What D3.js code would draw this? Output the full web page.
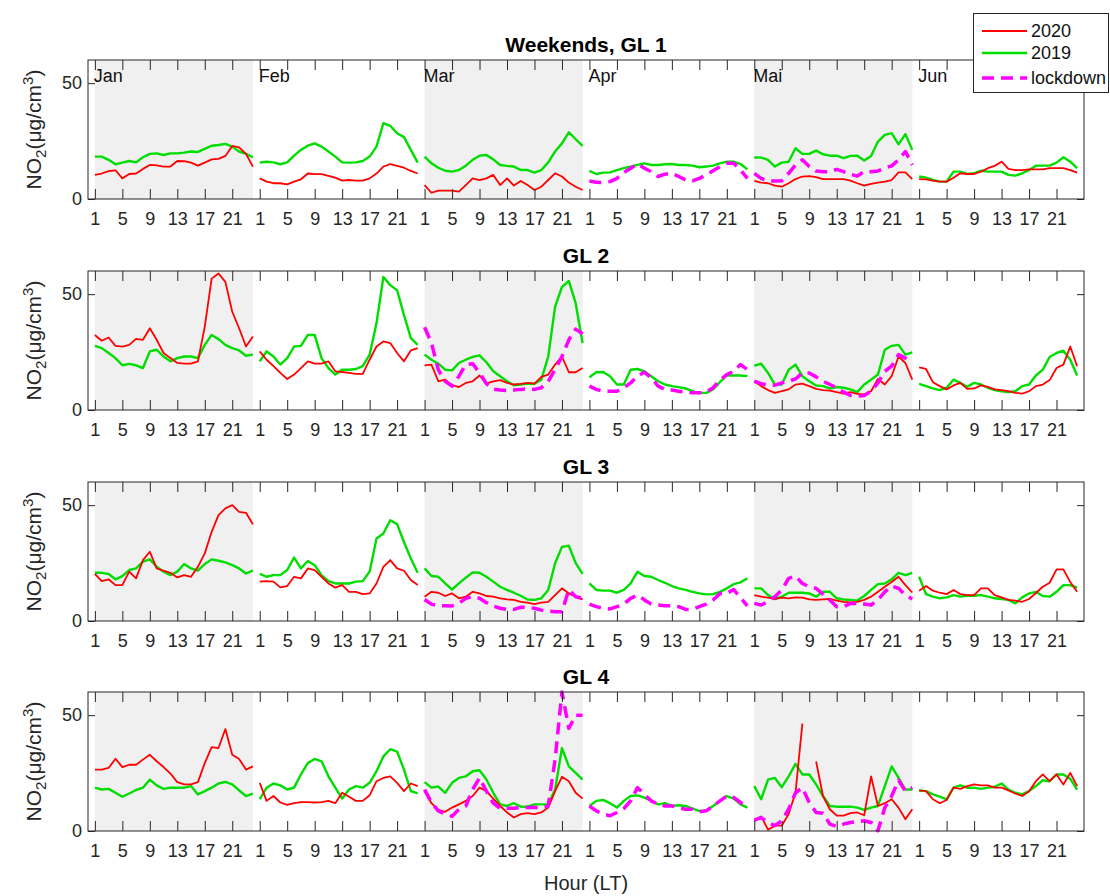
<!DOCTYPE html>
<html>
<head>
<meta charset="utf-8">
<script src="https://cdn.jsdelivr.net/npm/d3@7"></script>
<style>
  body { margin: 0; background: #fff; }
  text { font-family: "Liberation Sans", Arial, Helvetica, sans-serif; }
</style>
</head>
<body>
<script>
// categories
var months = ['Jan', 'Feb', 'Mar', 'Apr', 'Mai', 'Jun'];
var hourTicks = [1, 5, 9, 13, 17, 21];
var yTicks = [0, 50];
var panelTitles = ['Weekends, GL 1', 'GL 2', 'GL 3', 'GL 4'];
var shadedMonths = [0, 2, 4];

// NO2 per hour (1..24) for each month, null = no data
var gl1_2020 = [
  [10.4,11,12,12.4,8.9,10.8,11,13,14.7,14.5,14,14,16.4,16.3,15.7,14.4,15.7,17.1,17.3,18.6,22.9,22.3,19.5,14],
  [8.9,7.5,6.8,6.8,6.3,7.5,8.5,11,10.7,10.7,10,9.2,7.9,8.2,7.9,7.9,8.9,11,14,15.1,14.3,13.5,12.1,11],
  [6,2.7,3.6,3.6,3.6,3.2,6,8.9,8.2,8.9,10.4,6,8.9,5.8,7.8,6,3.9,5.3,8.2,11.1,9.7,7.1,5.3,3.9],
  null,
  [7.8,7.1,6.8,5.8,5.3,6.8,8.6,9.7,9.9,9.4,8.6,8.6,8.6,8.6,7.9,6.8,5.8,6.5,7.1,7.5,8.2,11.5,11.5,8.6],
  [8.6,8.5,7.9,7.5,7.5,9.2,11.1,10.8,10.8,11.8,13.3,14.3,16.1,13,12.5,12.5,12.8,12.8,12.8,13.3,13.3,13.3,12.5,11.4]
];
var gl1_2019 = [
  [18.3,18.3,16.9,15,15.7,16.4,15.8,18,19.5,19.7,19,19.7,19.7,20,20.5,20.3,21.6,23,23.3,23.8,22.6,20.5,19.5,18],
  [15.7,16.1,15.8,15,15.8,18.7,21.2,23,24,22.6,20.5,18.3,15.8,15.7,15.8,16.4,18.3,22.6,32.7,31.6,28.4,26.7,21.2,15.7],
  [18.3,15.4,13.5,12.2,11.8,12.5,14.4,16.9,18.7,19,17.1,14.7,14.3,14,12.5,12.5,11.4,12.5,15.8,20.5,24,28.8,25.8,22.9],
  [12.1,10.8,11.4,11.5,12.5,13.3,14,14.7,15.4,14.7,14.7,15,15.1,14.7,14.7,14.4,13.7,14,14.4,15.4,16.1,16.1,15.1,12.8],
  [17.9,17.9,16.9,14,15.7,16.1,21.9,19.5,19.5,20.9,19.3,18.7,18.7,17.6,18.6,18.7,16.6,18.6,24.8,27.7,28.4,23.6,28,21.2],
  [9.7,9.2,8.2,7.5,7.5,11.8,11.8,10.8,11.1,12.2,11.8,11.8,11.8,10.4,10.1,11.1,12.5,14.4,14.4,14.4,15.7,18,16.1,13.3]
];
var gl1_lock = [
  null, null, null,
  [7.8,7.2,7.1,7.5,8.9,11.4,13.3,15.1,13.3,11.8,9.7,10.7,11.1,9.7,8.2,7.8,8.9,10.4,12.2,14,15.4,15.4,12.5,8.9],
  [11.1,8.9,7.8,7.8,7.9,11.1,14.7,16.9,14,12.1,11.8,11.8,12.8,11.8,10.7,9.9,11.8,11.8,12.1,13.3,14.3,16.9,20.5,14.7],
  null
];

var gl2_2020 = [
  [32.4,29.9,31.3,27.7,27.4,28.1,30.7,30.3,35.3,30.3,24.6,22.4,20.3,20,20,21,36,56.7,58.9,55.3,42.4,35.3,27.4,31.7],
  [25.3,21.7,18.9,16,13.4,15.3,18.1,21,20,20,21,16.7,16.4,16,15.6,15.6,21.7,27.4,29.6,28.9,24.6,21,25.7,26.7],
  [19.3,19.6,12.4,13.1,10.7,9.9,11.7,12.4,14.9,11.4,12.4,12.9,11.7,11,11.3,11.7,11.4,14.3,15.3,19.6,23.1,16.3,16.3,18.1],
  null,
  [12.4,10.3,8.6,7.4,8.1,8.9,11,11.4,10.3,9.1,8.6,8.4,7.7,7.1,7.7,7,6.7,8.1,13.4,11,14.6,23.1,20.3,13.1],
  [18.4,17.7,12,10.3,8.9,10.6,11.7,9.1,9.3,10.6,10,8.9,8.6,8.1,7.4,7.1,8.1,10.3,11,12.9,18.1,19.6,27.4,18.9]
];
var gl2_2019 = [
  [27.7,26.7,24.6,22.4,19.3,19.9,19.3,18.1,25.3,26,23.1,21,22.4,23.1,23.1,22.4,28.1,32.4,30.6,28.1,26.7,25.7,23.4,23.9],
  [21,25.3,23.1,19.6,22.4,27.4,27.7,32.4,32.4,22.4,18.1,15.3,17.4,17.4,17.7,18.9,23.9,37.4,57.4,53.9,51.7,41,31,28.1],
  [23.9,21.7,20,17.4,17.1,20.3,21.7,22.9,23.6,20.6,16.7,14.6,12.4,10.7,11,11.4,11.3,13.1,23.1,44.6,53.1,55.7,46,28.9],
  [14.1,16.3,16.4,14.6,11,11,17.4,17.7,16.7,14.6,12.4,11,10.3,9.9,9.3,8.1,7.4,7.4,8.9,12,14.9,14.9,14.9,14.6],
  [19.1,20,16,11,11,17.4,19.6,14.6,12.4,10.6,10.3,9.3,9.9,9.6,8.9,7.7,11,13.1,15.3,26,27.7,28.1,23.9,24.9],
  [11.3,10.3,9.3,8.6,9.6,13.1,11.7,10,11.7,11,9.6,8.6,8.1,7.7,8.1,10.3,11,14.9,17.4,22.9,24.6,25.6,21.7,14.9]
];
var gl2_lock = [
  null, null,
  [35.7,28.9,17.4,12.4,10.3,14.6,19.6,20,16,11.4,9,8.6,8.4,8.6,8.9,9.1,8.9,9.6,12.4,17.4,23.1,30.3,34.9,32.9],
  [10.3,8.9,8.1,8.1,8.1,9.6,11.7,14.6,16.3,13.9,10.3,8.9,8.6,8.1,7.7,7.4,7.4,7.7,9.6,12.9,15.3,16.7,19.6,17.4],
  [12.4,11.4,10.7,10.7,11.7,12.4,13.4,16,16,14.3,12.4,11,9.6,7.7,6.3,6,6.3,8.1,11.7,16.7,18.9,23.9,22.4,20.3],
  null
];

var gl3_2020 = [
  [20.3,17.2,18,15.5,15.5,21.3,18.4,26.3,29.9,22.7,21.7,20.8,18.8,19.8,19.1,23.4,29.2,38.5,45.7,48.6,50,47.1,46.7,41.8],
  [17,17.2,17,14.5,15.1,19.1,18.4,22.7,22,19.1,16.2,14.4,15.5,12.6,12.6,11.6,11.9,16.2,23.4,26.3,22.7,21.7,17.7,15.5],
  [10.5,12.6,12.2,10.8,11.9,9.8,10.5,12.6,11.9,10.8,10.5,9.8,9.3,9.1,8.3,7.9,7.3,7.9,8.3,11.2,14.1,11.9,10.5,9.3],
  null,
  [11.2,10.5,10.1,9.5,10.1,9.8,10.2,10.1,9.3,9.1,9.3,9.5,8.8,8.3,8,8.3,9.1,10.5,12.6,14.8,16.8,19.1,15.5,12.3],
  [13.1,15.1,13.1,12.2,11.6,13.4,11.6,11.2,11.2,14.1,14.1,11.2,10.2,9.1,8.8,8.3,9.5,12.1,14.8,16.5,22.3,22.3,16.8,12.6]
];
var gl3_2019 = [
  [20.8,20.8,20.3,18,19.4,22,22.7,25.6,26.6,23.4,21.3,19.8,21.3,24.6,22.7,21.7,24.6,26.6,26,25.3,24.1,22.7,20.5,21.7],
  [20.3,19.1,19.8,19.8,22,27.4,22.7,25.9,24.1,19.8,17.2,16.2,16.2,16.2,17,17.2,21.3,35.6,37.8,43.5,41.8,34.1,27,20.8],
  [22.7,19.4,19.1,16.2,13.6,16.2,18.7,21,20.8,19.1,17,14.8,13.4,12.2,10.9,9.3,9.1,9.8,13.4,24.9,32,32.5,25,20.3],
  [16.2,13.4,13.1,13.1,12.2,13.4,16.2,21.3,19.4,19.1,17.7,16.5,15.1,14.1,13.4,12.6,11.9,11.5,11.6,12.6,14.1,15.9,16.7,18.4],
  [14.1,14.1,11.2,9.5,10.5,12.2,12.2,12.2,11.9,10.5,12.6,12.6,9.8,9.3,9.1,8.8,10.8,13.4,15.9,16.2,18,20.8,19.8,20.8],
  [19.1,11.6,10.5,9.8,10.2,11.2,10.5,10.9,10.9,11.2,10.5,9.8,9.5,9.1,7.6,10.2,11.9,12.6,10.8,10.5,12.6,15.5,15.5,14.4]
];
var gl3_lock = [
  null, null,
  [9.3,7.3,6.6,6.6,6.5,7.6,9.8,10.5,9.8,7.9,6.5,5.5,5,5,5.9,5.9,5.5,4.7,4.3,4,4,13.5,10.5,9.8],
  [7.3,6.2,5.5,5.2,6.2,7.3,9.8,11.2,9.1,7.3,6.9,6.6,6.6,6.2,5,5,6.2,7.3,9.1,11.9,11.9,13.6,10,6.5],
  [7.6,6.9,8.3,10.5,13.4,18.4,19.4,16.2,14.8,14.1,11.6,9.1,6.2,6.2,7.6,7.6,7.3,6.9,9.1,12.6,15.1,14.1,11.2,9.5],
  null
];

var gl4_2020 = [
  [26.5,26.5,27.2,31.2,27.6,28.6,28.6,30.8,32.9,30.1,27.6,24.8,21.1,20.1,20.1,21.1,29.3,36.2,35.8,44,32.9,31.1,26.5,27.9],
  [20.8,13,15.1,12.3,11.3,12,12.5,12.5,12.3,12.5,13,12,16.5,14.8,13,13,15.4,21.5,22.9,23.6,20.8,17.2,20.5,19.4],
  [17.2,12,9.1,8.3,10.1,11.5,13,15.1,18.7,17.2,14,10.8,8,5.8,7.3,7.7,7.3,8,10.1,17.2,23.4,21.5,16.5,14],
  null,
  [4.4,6.3,0.6,2.3,2.3,7.3,16.5,46.4,null,30,15.1,9.4,6.6,6.6,7.7,8,6.8,23.6,10.8,12,13.7,10.1,5.1,9.4],
  [17.5,17.2,13.7,12,13.4,18.7,18.2,19.4,20.1,19.7,19.7,18.7,18.7,17.5,16.2,15.1,17.2,21.5,24.4,21.5,24.4,20.1,25.1,19.4]
];
var gl4_2019 = [
  [18.7,17.9,18.2,16.5,14.8,16.2,17.7,18.7,22.2,19.7,18.2,18.7,18.7,18.7,19.4,15.8,17.2,18.7,20.5,21.2,20.1,17.5,15.1,16.1],
  [13.7,18.7,20.5,19.7,17.9,18.7,24.4,29.3,31.1,30.1,23.6,18.7,14,17.9,19.4,18.7,20.8,25.8,32.2,35.3,34.3,26.5,17.2,16.2],
  [21.1,18.7,19.2,16.5,20.8,22.9,23.6,25.8,26.2,22.2,16.5,11.5,10.8,12,10.5,10.5,11.5,11.5,11.5,17.9,35.8,27.9,25.1,22.2],
  [10.8,13,13.4,12,10.1,13,15.1,15.4,14.4,13,11.5,12,10.8,11.1,10.8,9.7,8.7,8.7,10.8,13,15.1,14,11.5,10.1],
  [19.4,13.7,22.2,22.9,18.9,23.6,29,24.4,24.4,20.1,15.1,10.8,10.5,10.5,10.5,10.1,9.1,10.1,10.8,19.4,27.9,22.9,17.9,17.9],
  [17.5,17.2,15.8,14.8,13.7,18.7,19.7,18.7,18.7,18.2,18.7,19.1,20.5,17.9,16.5,15.8,17.2,19.4,21.9,21.5,24.4,24.4,22.5,17.9]
];
var gl4_lock = [
  null, null,
  [17.9,12.3,8.7,7.3,6.3,9.4,10.8,17.9,22.9,17.2,12,9.8,9.8,9.8,10.1,10.1,10.1,10.1,10.8,30.8,60,44.3,50,50],
  [10.8,8.7,7.3,6.6,8,9.7,13,18.7,15.8,13,11.5,10.8,10.8,10.1,9.4,9.4,8.3,8.7,10.8,13,15.1,14.5,12.3,10.1],
  [4.7,5.8,3.7,2.3,4.4,9.4,16.5,18.7,12.3,8,7.7,3,1.9,3,3.7,4,4.4,3.7,0.1,10.1,15.1,21.9,17.2,18.7],
  null
];

var panels = [
  [gl1_2019, gl1_2020, gl1_lock],
  [gl2_2019, gl2_2020, gl2_lock],
  [gl3_2019, gl3_2020, gl3_lock],
  [gl4_2019, gl4_2020, gl4_lock]
];

var styles = [
  {color: '#00dd00', width: 2.4, dash: null},
  {color: '#ff0000', width: 1.8, dash: null},
  {color: '#ff00ff', width: 3.5, dash: '12,7'}
];
var legendNames = ['2020', '2019', 'lockdown'];

var width = 1110, height = 896;
var panelTops = [60, 271, 482, 692];
var ph = 139;
var axisColor = '#262626';

var svg = d3.select('body').append('svg')
  .attr('width', width).attr('height', height);

var x = d3.scaleLinear().domain([0, 145]).range([88, 1084]);

var tickVals = [];
months.forEach((m, i) => hourTicks.forEach(h => tickVals.push(i * 24 + h)));

panels.forEach((series, p) => {
  var top = panelTops[p];
  var y = d3.scaleLinear().domain([0, 60]).range([top + ph, top]);
  var g = svg.append('g');

  g.selectAll('rect.shade')
    .data(shadedMonths)
    .enter().append('rect')
    .attr('x', m => x(m * 24 + 1))
    .attr('width', m => x(m * 24 + 24) - x(m * 24 + 1))
    .attr('y', top).attr('height', ph)
    .attr('fill', '#f0f0f0');

  var line = d3.line()
    .defined(d => d.v != null)
    .x(d => x(d.i))
    .y(d => y(d.v));

  series.forEach((s, k) => {
    s.forEach((vals, m) => {
      if (!vals) return;
      var pts = vals.map((v, h) => ({i: m * 24 + h + 1, v: v}));
      g.append('path')
        .attr('d', line(pts))
        .attr('fill', 'none')
        .attr('stroke', styles[k].color)
        .attr('stroke-width', styles[k].width)
        .attr('stroke-dasharray', styles[k].dash)
        .attr('stroke-linejoin', 'round');
    });
  });

  // axes
  g.append('g')
    .attr('transform', `translate(0,${top + ph})`)
    .call(d3.axisBottom(x).tickValues(tickVals)
      .tickFormat(v => (v - 1) % 24 + 1)
      .tickSizeInner(-10).tickSizeOuter(0).tickPadding(13));
  g.append('g')
    .attr('transform', `translate(0,${top})`)
    .call(d3.axisTop(x).tickValues(tickVals).tickFormat('')
      .tickSizeInner(-10).tickSizeOuter(0));
  g.append('g')
    .attr('transform', `translate(${x(0)},0)`)
    .call(d3.axisLeft(y).tickValues(yTicks)
      .tickSizeInner(-7).tickSizeOuter(0).tickPadding(6));
  g.append('g')
    .attr('transform', `translate(${x(145)},0)`)
    .call(d3.axisRight(y).tickValues(yTicks).tickFormat('')
      .tickSizeInner(-7).tickSizeOuter(0));

  g.selectAll('.domain').remove();
  g.selectAll('.tick line').attr('stroke', axisColor);
  g.selectAll('.tick text')
    .attr('fill', axisColor)
    .style('font-size', '18px')
    .style('font-family', '"Liberation Sans", Arial, sans-serif');

  g.append('rect')
    .attr('x', x(0)).attr('y', top)
    .attr('width', x(145) - x(0)).attr('height', ph)
    .attr('fill', 'none')
    .attr('stroke', axisColor);

  // title
  g.append('text')
    .attr('x', (x(0) + x(145)) / 2)
    .attr('y', top - 8)
    .attr('text-anchor', 'middle')
    .style('font-size', '21px')
    .style('font-weight', 'bold')
    .text(panelTitles[p]);

  // y label
  var yl = g.append('text')
    .attr('transform', `translate(41,${top + ph / 2}) rotate(-90)`)
    .attr('text-anchor', 'middle')
    .attr('fill', axisColor)
    .style('font-size', '21px');
  yl.append('tspan').text('NO');
  yl.append('tspan').attr('dy', 5).style('font-size', '15px').text('2');
  yl.append('tspan').attr('dy', -5).text('(\u03bcg/cm');
  yl.append('tspan').attr('dy', -8).style('font-size', '15px').text('3');
  yl.append('tspan').attr('dy', 8).text(')');

  if (p === 0) {
    g.selectAll('text.month')
      .data(months)
      .enter().append('text')
      .attr('x', (d, i) => x(i * 24 + 1) - 1)
      .attr('y', top + 22)
      .attr('fill', '#111')
      .style('font-size', '18px')
      .text(d => d);
  }
});

svg.append('text')
  .attr('x', (x(0) + x(145)) / 2)
  .attr('y', 890)
  .attr('text-anchor', 'middle')
  .attr('fill', axisColor)
  .style('font-size', '20px')
  .text('Hour (LT)');

// legend
var leg = svg.append('g');
leg.append('rect')
  .attr('x', 973.5).attr('y', 13.5)
  .attr('width', 135).attr('height', 79)
  .attr('fill', 'white').attr('stroke', axisColor);
var legStyles = [styles[1], styles[0], styles[2]];
legendNames.forEach((n, i) => {
  var ly = [31, 53, 78][i];
  leg.append('line')
    .attr('x1', 982).attr('x2', 1027)
    .attr('y1', ly).attr('y2', ly)
    .attr('stroke', legStyles[i].color)
    .attr('stroke-width', legStyles[i].width)
    .attr('stroke-dasharray', legStyles[i].dash);
  leg.append('text')
    .attr('x', 1031).attr('y', ly)
    .attr('dy', '0.35em')
    .attr('fill', '#111')
    .style('font-size', '18px')
    .text(n);
});
</script>
</body>
</html>
